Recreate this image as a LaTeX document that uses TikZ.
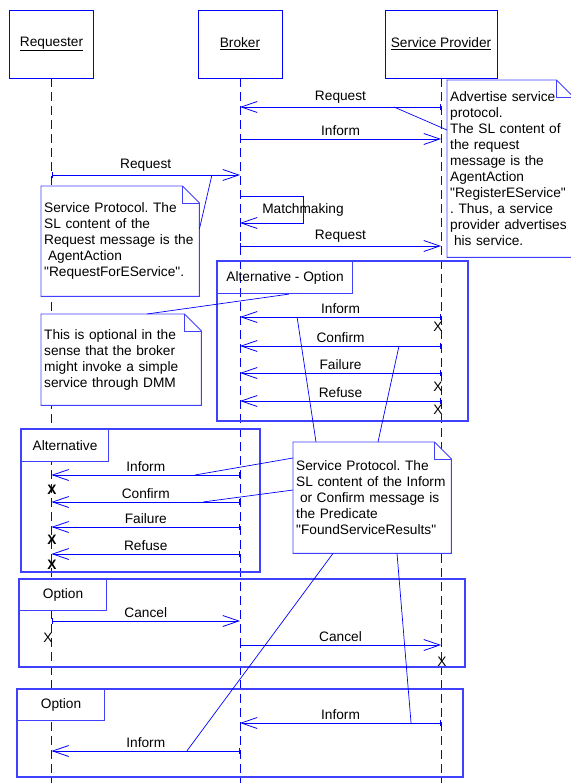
\documentclass[tikz,border=0pt]{standalone}
\usepackage{fontspec}
\setmainfont{Liberation Sans}
\usetikzlibrary{arrows.meta}
\definecolor{umlblue}{RGB}{0,0,255}
\definecolor{boxblue}{RGB}{64,64,255}
\pgfdeclarelayer{lines}
\pgfdeclarelayer{notebg}
\pgfsetlayers{lines,notebg,main}
\frenchspacing
\hyphenpenalty=10000

\begin{document}
\begin{tikzpicture}[x=1pt, y=-1pt, font=\fontsize{13.7}{16}\selectfont]
    % Set up styles for the diagram
    \tikzstyle{actor} = [draw=umlblue, line width=0.9pt, minimum width=84pt, minimum height=68pt]
    \tikzstyle{lifeline} = [draw=umlblue, line width=0.8pt, dash pattern=on 9pt off 5pt]
    \tikzstyle{msg} = [draw=umlblue, line width=0.8pt, {Bar[width=6pt]}-{Straight Barb[length=16pt,width=11pt]}]
    \tikzstyle{link} = [draw=umlblue, line width=0.7pt]
    \tikzstyle{frame} = [draw=boxblue, line width=1.3pt]
    \tikzstyle{tab} = [draw=boxblue, line width=1.1pt, fill=white, anchor=north west, inner sep=0pt]
    \tikzstyle{note} = [anchor=north west, align=left, inner xsep=3pt, inner ysep=0pt]
    \tikzstyle{noteline} = [draw=boxblue, line width=0.9pt]
    \tikzstyle{cross} = [inner sep=0pt]

    \useasboundingbox (0,0) rectangle (570,783);

    % Draw the actors and their lifelines
    \node[actor] (req) at (51.5,44) {\underline{Requester}};
    \node[actor] (brk) at (240,44) {\underline{Broker}};
    \node[actor, minimum width=112pt] (sp) at (441,44) {\underline{Service Provider}};
    \begin{pgfonlayer}{lines}
        \foreach \a in {req, brk, sp}
            \draw[lifeline] (\a.south) -- (\a.south |- 0,783);
    \end{pgfonlayer}

    % Registration and request
    \draw[msg] (sp |- 0,107) -- node[above] {Request} coordinate[pos=0.234] (a1) (brk |- 0,107);
    \draw[msg] (brk |- 0,139) -- node[above] {Inform} (sp |- 0,139);
    \draw[msg] (req |- 0,175) -- node[above] {Request} coordinate[pos=0.851] (a2) (brk |- 0,175);
    \draw[draw=umlblue, line width=0.8pt, -{Straight Barb[length=16pt,width=11pt]}]
        (brk |- 0,196) -- ++(63,0) -- node {Matchmaking} ++(0,27) -- (brk |- 0,223);
    \draw[msg] (brk |- 0,246) -- node[above] {Request} (sp |- 0,246);

    % Alternative - Option
    \draw[frame] (217,261) rectangle (468,421);
    \node[tab, fill=none, minimum width=135pt, minimum height=32pt] (t1) at (217,261) {Alternative - Option};
    \draw[msg] (sp |- 0,317) -- node[above] {Inform} coordinate[pos=0.716] (a3) (brk |- 0,317);
    \draw[msg] (sp |- 0,346) -- node[above] {Confirm} coordinate[pos=0.209] (a4) (brk |- 0,346);
    \draw[msg] (sp |- 0,373) -- node[above] {Failure} (brk |- 0,373);
    \draw[msg] (sp |- 0,401) -- node[above] {Refuse} (brk |- 0,401);
    \node[cross] (x1) at (438,327) {X};
    \node[cross] (x2) at (438,387) {X};
    \node[cross] (x3) at (438,410) {X};

    % Alternative
    \draw[frame] (21,429) rectangle (260,572);
    \node[tab, minimum width=87pt, minimum height=32pt] (t2) at (21,429) {Alternative};
    \draw[msg] (brk |- 0,475) -- node[above] {Inform} coordinate[pos=0.239] (a5) (req |- 0,475);
    \draw[msg] (brk |- 0,502) -- node[above] {Confirm} coordinate[pos=0.197] (a6) (req |- 0,502);
    \draw[msg] (brk |- 0,527) -- node[above] {Failure} (req |- 0,527);
    \draw[msg] (brk |- 0,554) -- node[above] {Refuse} (req |- 0,554);
    \node[cross] (x4) at (52,490) {\bfseries X};
    \node[cross] (x5) at (52,540) {\bfseries X};
    \node[cross] (x6) at (52,565) {\bfseries X};

    % Option: cancel
    \draw[frame] (19,579) rectangle (465,667);
    \node[tab, minimum width=87pt, minimum height=31pt] (t3) at (19,579) {Option};
    \draw[msg] (req |- 0,621) -- node[above] {Cancel} (brk |- 0,621);
    \draw[msg] (brk |- 0,645) -- node[above] {Cancel} (sp |- 0,645);
    \node[cross] (x7) at (48,638) {X};
    \node[cross] (x8) at (442,662) {X};

    % Option: inform
    \draw[frame] (17,689) rectangle (463,777);
    \node[tab, minimum width=87pt, minimum height=31pt] (t4) at (17,689) {Option};
    \draw[msg] (sp |- 0,723) -- node[above] {Inform} coordinate[pos=0.149] (a7) (brk |- 0,723);
    \draw[msg] (brk |- 0,751) -- node[above] {Inform} coordinate[pos=0.282] (a8) (req |- 0,751);

    % Notes
    \node[note, minimum width=158pt, minimum height=110pt, text width=152pt] (n1) at (41,186)
        {Service Protocol. The\\ SL content of the\\ Request message is the\\ \hspace*{3.8pt}AgentAction\\ \textquotedbl RequestForEService\textquotedbl.};
    \node[note, minimum width=126pt, minimum height=177pt, text width=120pt] (n2) at (447,80)
        {Advertise service\\ protocol.\\ The SL content of\\ the request\\ message is the\\ AgentAction\\ \textquotedbl RegisterEService\textquotedbl\\ . Thus, a service\\ provider advertises\\ \hspace*{3.8pt}his service.};
    \node[note, minimum width=160pt, minimum height=91pt, text width=154pt] (n3) at (41,314)
        {This is optional in the\\ sense that the broker\\ might invoke a simple\\ service through DMM};
    \node[note, minimum width=158pt, minimum height=111pt, text width=152pt] (n4) at (293,442)
        {Service Protocol. The\\ SL content of the Inform\\ \hspace*{3.8pt}or Confirm message is\\ the Predicate\\ \textquotedbl FoundServiceResults\textquotedbl};
    \begin{pgfonlayer}{notebg}
        \foreach \n in {n1,n2,n3,n4} {
            \draw[noteline, fill=white] (\n.north west) -- ([xshift=-17pt]\n.north east)
                -- ([yshift=-17pt]\n.north east) -- (\n.south east) -- (\n.south west) -- cycle;
            \draw[noteline] ([xshift=-17pt]\n.north east) -- ([xshift=-17pt,yshift=-17pt]\n.north east)
                -- ([yshift=-17pt]\n.north east);
        }
    \end{pgfonlayer}

    % Connect the notes
    \draw[link] ([yshift=-43pt]n1.north east) -- (a2);
    \draw[link] ([yshift=-50pt]n2.north west) -- (a1);
    \draw[link] ([xshift=106pt]n3.north west) -- ([xshift=4pt]t1.south);
    \draw[link] ([xshift=23pt]n4.north west) -- (a3);
    \draw[link] ([xshift=85pt]n4.north west) -- (a4);
    \draw[link] ([yshift=-16pt]n4.north west) -- (a5);
    \draw[link] ([yshift=-48pt]n4.north west) -- (a6);
    \draw[link] ([xshift=40pt]n4.south west) -- (a8);
    \draw[link] ([xshift=104pt]n4.south west) -- (a7);

\end{tikzpicture}
\end{document}
